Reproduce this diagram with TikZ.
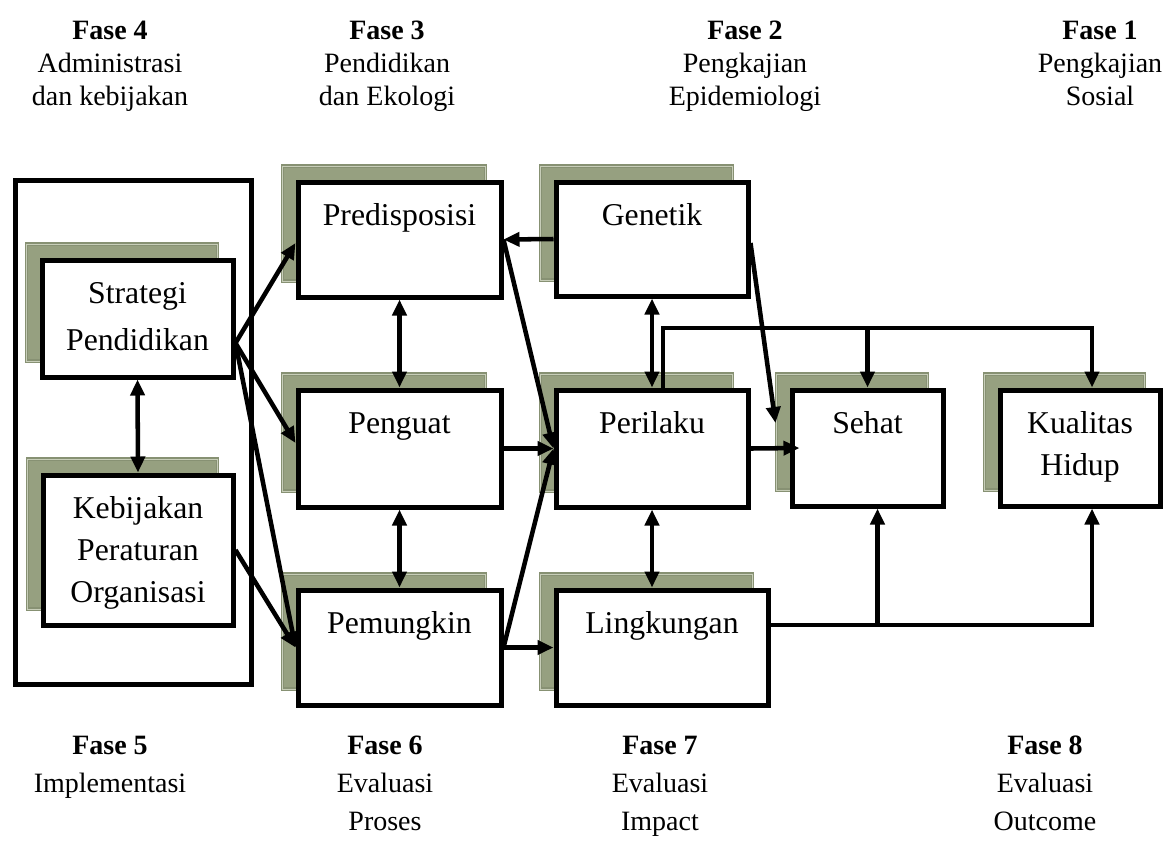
\documentclass[tikz,border=0pt]{standalone}
\usepackage{fontspec}
\setmainfont{Liberation Serif}
\usetikzlibrary{arrows.meta,calc,shadows}
\definecolor{SHADOW-GREEN}{RGB}{150,160,128}
\definecolor{SHADOW-EDGE}{RGB}{135,145,115}
\definecolor{SHADOW-LIGHT}{RGB}{200,206,185}
\newdimen\pxu \pxu=0.75pt
\newcommand{\boxtxt}[3]{\parbox[c][#2\pxu][t]{#1\pxu}{\centering\rule{0pt}{32.5pt}#3}}

\tikzset{
  stage/.style={draw, line width=3.75pt, fill=white, inner sep=0pt,
    font=\fontsize{23.8}{31.5}\selectfont,
    general shadow={fill=SHADOW-GREEN, draw=SHADOW-EDGE, double=SHADOW-LIGHT,
      line width=0.9pt, double distance=0.5pt,
      shadow xshift=-11.5pt, shadow yshift=12pt}},
  frame/.style={draw, line width=3.75pt, inner sep=0pt},
  phase/.style={align=center, anchor=north, inner sep=0pt,
    font=\fontsize{21}{24.75}\selectfont},
  lowphase/.style={phase, font=\fontsize{21}{28.5}\selectfont},
  link/.style={line width=3.4pt, ->},
  twoway/.style={line width=3.4pt, <->},
  >={Triangle[length=12pt,width=10.5pt]}
}

\begin{document}
\begin{tikzpicture}[x=0.75pt, y=-0.75pt]
  \useasboundingbox (0,0) rectangle (1163,840);

  % Fase 5 frame
  \node[frame, minimum width=177pt, minimum height=378pt] (impl) at (133,432) {};

  % Fase 4 boxes
  \node[stage] (strat) at (137.5,318.5) {\boxtxt{191}{117}{Strategi\\[4pt]Pendidikan}};
  \node[stage] (kebij) at (138,550) {\boxtxt{190}{150}{Kebijakan\\Peraturan\\Organisasi}};

  % Fase 3 boxes
  \node[stage] (predis) at (399.5,239.5) {\boxtxt{203}{115}{Predisposisi}};
  \node[stage] (penguat) at (399.5,448.5) {\boxtxt{203}{117}{Penguat}};
  \node[stage] (pemung) at (399.5,647.5) {\boxtxt{203}{115}{Pemungkin}};

  % Fase 2 boxes
  \node[stage] (genetik) at (652,239) {\boxtxt{192}{114}{Genetik}};
  \node[stage] (perilaku) at (652,448.5) {\boxtxt{192}{117}{Perilaku}};
  \node[stage] (lingk) at (662,647.5) {\boxtxt{212}{115}{Lingkungan}};

  % Fase 1 boxes
  \node[stage] (sehat) at (867.5,448) {\boxtxt{151}{116}{Sehat}};
  \node[stage] (kualitas) at (1080,448) {\boxtxt{160}{116}{Kualitas\\Hidup}};

  % Fase 4 -> Fase 3
  \draw[link] ($(strat.east)+(0,24.5)$) -- ($(predis.west)+(0,3.5)$);
  \draw[link] ($(strat.east)+(0,24.5)$) -- ($(penguat.west)+(0,-5.5)$);
  \draw[link] ($(strat.east)+(0,24.5)$) -- (pemung.west);
  \draw[link] (kebij.east) -- (pemung.west);
  \draw[twoway] (strat.south) -- (kebij.north);

  % Fase 3 -> Fase 2
  \draw[twoway] (predis.south) -- (penguat.north);
  \draw[twoway] (penguat.south) -- (pemung.north);
  \draw[link] (genetik.west) -- (predis.east);
  \draw[link] (predis.east) -- (perilaku.west);
  \draw[link] (penguat.east) -- (perilaku.west);
  \draw[link] (pemung.east) -- (perilaku.west);
  \draw[link] (pemung.east) -- (lingk.west);
  \draw[twoway] (genetik.south) -- (perilaku.north);
  \draw[twoway] (perilaku.south) -- (perilaku.south |- lingk.north);

  % Fase 2 -> Fase 1
  \coordinate (gentip) at ($(sehat.west)+(-14,-25)$);
  \draw[link] ($(genetik.east)+(0,4)$) -- (gentip);
  \draw[link] (perilaku.east) -- ($(sehat.west)+(10,0)$);

  \coordinate (topline) at (0,328);
  \coordinate (qtop) at ($(kualitas.north)+(12,0)$);
  \draw[link] ($(perilaku.north)+(11,0)$) |- (qtop |- topline) -- (qtop);
  \draw[link] (sehat.north |- topline) -- (sehat.north);

  \coordinate (botline) at (0,625);
  \coordinate (qbot) at ($(kualitas.south)+(12,0)$);
  \coordinate (sbot) at ($(sehat.south)+(10,0)$);
  \draw[link] (lingk.east |- botline) -| (qbot);
  \draw[link] (sbot |- botline) -- (sbot);

  % phase titles
  \node[phase] (f4) at (110,21) {\textbf{Fase 4}\\Administrasi\\dan kebijakan};
  \node[phase] (f3) at (387,21) {\textbf{Fase 3}\\Pendidikan\\dan Ekologi};
  \node[phase] (f2) at (745,21) {\textbf{Fase 2}\\Pengkajian\\Epidemiologi};
  \node[phase] (f1) at (1100,21) {\textbf{Fase 1}\\Pengkajian\\Sosial};
  \node[lowphase] (f5) at (110,736) {\textbf{Fase 5}\\Implementasi};
  \node[lowphase] (f6) at (385,736) {\textbf{Fase 6}\\Evaluasi\\Proses};
  \node[lowphase] (f7) at (660,736) {\textbf{Fase 7}\\Evaluasi\\Impact};
  \node[lowphase] (f8) at (1045,736) {\textbf{Fase 8}\\Evaluasi\\Outcome};
\end{tikzpicture}
\end{document}
